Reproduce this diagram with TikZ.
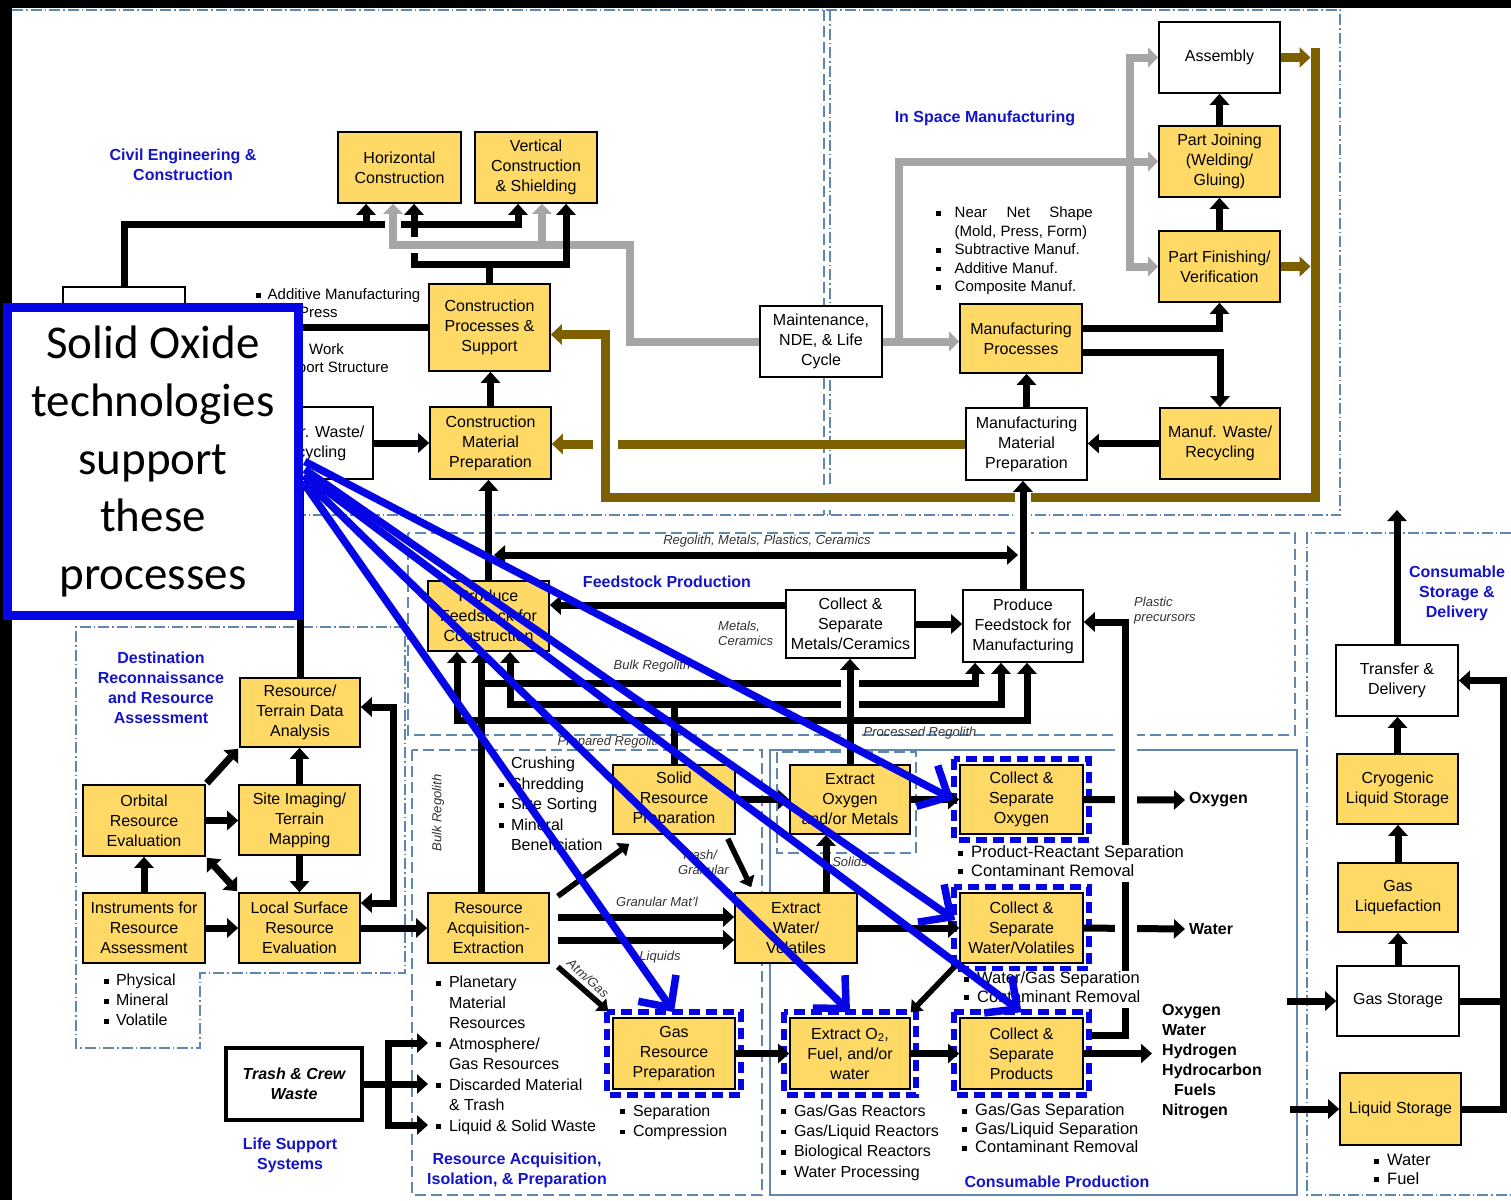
\documentclass[tikz,border=0pt]{standalone}
\usepackage{fontspec}
\setmainfont{Liberation Sans}
\newfontfamily\calfont{Carlito}
\usetikzlibrary{arrows.meta,positioning}

\definecolor{boxyellow}{RGB}{255,217,102}
\definecolor{flowbrown}{RGB}{127,96,0}
\definecolor{flowgray}{RGB}{166,166,166}
\definecolor{titleblue}{RGB}{20,20,200}
\definecolor{calloutblue}{RGB}{5,5,230}
\definecolor{regionline}{RGB}{95,135,175}

\newcommand{\sqbul}{\rule[0.12em]{0.3em}{0.3em}}
\newcommand{\boxfont}{\fontsize{16}{20}\selectfont}
\newcommand{\listfont}{\fontsize{16}{20.4}\selectfont}
\newcommand{\tightfont}{\fontsize{16.5}{18.5}\selectfont}
\newcommand{\mfgfont}{\fontsize{15}{18.5}\selectfont}
\newcommand{\flowfont}{\fontsize{13}{15}\selectfont\itshape}
\newcommand{\titlefont}{\fontsize{16}{20}\selectfont\bfseries}

\pgfdeclarelayer{regions}
\pgfdeclarelayer{conn}
\pgfdeclarelayer{front}
\pgfsetlayers{regions,conn,main,front}

\tikzset{
  plainbox/.style={draw=black, line width=1.6pt, fill=white, align=center,
    inner sep=1pt, minimum width=121pt, minimum height=70pt, font=\boxfont},
  yellowbox/.style={plainbox, fill=boxyellow},
  bullets/.style={inner sep=0pt, anchor=north west, font=\listfont},
  regtitle/.style={text=titleblue, font=\titlefont, align=center, inner sep=0pt},
  flowlabel/.style={font=\flowfont, text=black!80, inner sep=0pt},
  outlabel/.style={font=\boxfont\bfseries, inner sep=0pt, inner xsep=4pt, anchor=west},
  flowarrow/.style={line width=7pt, -{Triangle[length=11pt,width=19pt]}},
  flowboth/.style={line width=7pt, {Triangle[length=11pt,width=19pt]}-{Triangle[length=11pt,width=19pt]}},
  flowline/.style={line width=7pt},
  diagarrow/.style={line width=5.5pt, -{Triangle[length=10pt,width=16pt]}},
  grayarrow/.style={draw=flowgray, line width=8pt, -{Triangle[length=10pt,width=19pt]}},
  brownarrow/.style={draw=flowbrown, line width=9pt, -{Triangle[length=11pt,width=20pt]}},
  gapcase/.style={preaction={draw=white, arrows=-, line width=#1}},
  hiframe/.style={draw=calloutblue, line width=6pt, dash pattern=on 11pt off 6pt},
  solidox/.style={draw=calloutblue, line width=7.5pt, -{Straight Barb[length=24pt,width=46pt]}},
  regdash/.style={draw=regionline, line width=1.3pt, dash pattern=on 11pt off 5pt},
  regdot/.style={draw=regionline, line width=1.3pt, dash pattern=on 11pt off 3pt on 1.5pt off 3pt},
  regsolid/.style={draw=regionline, line width=1.2pt}
}

\begin{document}
\begin{tikzpicture}[x=1pt,y=-1pt]
\useasboundingbox (0,0) rectangle (1511,1200);

% Frame of the screenshot
\fill[black] (0,0) rectangle (1511,8);
\fill[black] (0,0) rectangle (12,1200);

% Regions
\begin{pgfonlayer}{regions}
  \draw[regdot] (12,10) -- (1340,10) -- (1340,515) -- (12,515);
  \draw[regdash] (824,10) -- (824,515);
  \draw[regdot] (830,10) -- (830,515);
  \draw[regdash] (408,533) rectangle (1295,735);
  \draw[regdash] (412,750) rectangle (762,1195);
  \draw[regsolid] (770,750) rectangle (1297,1195);
  \draw[regdash] (777,752) rectangle (916,853);
  \draw[regdot] (405,627) -- (76,627) -- (76,1048) -- (200,1048) -- (200,973) -- (405,973) -- cycle;
  \draw[regdot] (1511,533) -- (1307,533) -- (1307,1195) -- (1511,1195);
\end{pgfonlayer}

% Civil engineering & construction
\node[plainbox, minimum width=122pt, minimum height=81pt] (plan) at (124,327.5) {};
\node[yellowbox, minimum width=123pt, minimum height=71pt] (hz) at (399.5,167.5) {Horizontal\\Construction};
\node[yellowbox, minimum width=122pt, minimum height=71pt] (vt) at (536,167.5) {Vertical\\Construction\\\& Shielding};
\node[yellowbox, minimum height=87pt] (cps) at (489.5,327.5) {Construction\\Processes \&\\Support};
\node[yellowbox, minimum height=72pt] (cmp) at (490.5,443) {Construction\\Material\\Preparation};
\node[plainbox, minimum width=123pt, minimum height=72pt] (cwr) at (311.5,443) {Constr. Waste/\\Recycling};

% In space manufacturing
\node[plainbox, minimum height=71pt] (asm) at (1219.5,57.5) {Assembly};
\node[yellowbox, minimum height=71pt] (pjg) at (1219.5,161.5) {Part Joining\\(Welding/\\Gluing)};
\node[yellowbox, minimum height=71pt] (pfv) at (1219.5,266.5) {Part Finishing/\\Verification};
\node[yellowbox, minimum width=122pt, minimum height=69pt] (mpr) at (1021,338.5) {Manufacturing\\Processes};
\node[plainbox, minimum width=122pt, minimum height=71pt] (mnt) at (821,341.5) {Maintenance,\\NDE, \& Life\\Cycle};
\node[plainbox, minimum height=72pt] (mmp) at (1026.5,444) {Manufacturing\\Material\\Preparation};
\node[yellowbox, minimum width=120pt, minimum height=71pt] (mwr) at (1220,443.5) {Manuf. Waste/\\Recycling};

% Feedstock production
\node[yellowbox] (pfc) at (488.5,616) {Produce\\Feedstock for\\Construction};
\node[plainbox, minimum width=129pt, minimum height=68pt] (csm) at (850.5,624) {Collect \&\\Separate\\Metals/Ceramics};
\node[plainbox, minimum width=120pt, minimum height=72pt] (pfm) at (1023,626) {Produce\\Feedstock for\\Manufacturing};

% Destination reconnaissance
\node[yellowbox, minimum width=120pt, minimum height=69pt] (rt) at (300,712.5) {Resource/\\Terrain Data\\Analysis};
\node[yellowbox, minimum width=122pt, minimum height=71pt] (orb) at (144,820.5) {Orbital\\Resource\\Evaluation};
\node[yellowbox] (sim) at (299.5,820) {Site Imaging/\\Terrain\\Mapping};
\node[yellowbox, minimum width=122pt] (ins) at (144,928) {Instruments for\\Resource\\Assessment};
\node[yellowbox] (lse) at (299.5,928) {Local Surface\\Resource\\Evaluation};

% Life support
\node[plainbox, line width=4pt, minimum width=136pt, minimum height=72pt, font=\boxfont\bfseries\itshape] (tcw) at (294,1084) {Trash \& Crew\\Waste};

% Resource acquisition
\node[yellowbox] (ra) at (488.5,928) {Resource\\Acquisition-\\Extraction};
\node[yellowbox, minimum width=122pt, minimum height=69pt] (srp) at (674,799.5) {Solid\\Resource\\Preparation};
\node[yellowbox, minimum width=122pt, minimum height=71pt] (grp) at (674,1053.5) {Gas\\Resource\\Preparation};

% Consumable production
\node[yellowbox, minimum width=120pt, minimum height=69pt] (eo) at (850,799.5) {Extract\\Oxygen\\and/or Metals};
\node[yellowbox, minimum width=122pt] (ewv) at (796,928) {Extract\\Water/\\Volatiles};
\node[yellowbox, minimum width=120pt, minimum height=71pt] (eo2) at (850,1053.5) {Extract O\textsubscript{2},\\Fuel, and/or\\water};
\node[yellowbox, minimum width=123pt, minimum height=69pt] (cso) at (1021.5,799.5) {Collect \&\\Separate\\Oxygen};
\node[yellowbox, minimum width=123pt] (csw) at (1021.5,928) {Collect \&\\Separate\\Water/Volatiles};
\node[yellowbox, minimum width=123pt, minimum height=71pt] (csp) at (1021.5,1053.5) {Collect \&\\Separate\\Products};

% Consumable storage & delivery
\node[plainbox, minimum width=122pt, minimum height=71pt] (tdl) at (1397,680.5) {Transfer \&\\Delivery};
\node[yellowbox] (cls) at (1397.5,789) {Cryogenic\\Liquid Storage};
\node[yellowbox, minimum width=120pt, minimum height=69pt] (glq) at (1398,897.5) {Gas\\Liquefaction};
\node[plainbox, minimum width=122pt] (gst) at (1398,1001) {Gas Storage};
\node[yellowbox, minimum height=72pt] (lst) at (1400.5,1109) {Liquid Storage};

% Region titles
\node[regtitle] (tcivil) at (183,165) {Civil Engineering \&\\Construction};
\node[regtitle] (tism) at (985,118) {In Space Manufacturing};
\node[regtitle] (tfeed) at (667,582) {Feedstock Production};
\node[regtitle] (tdest) at (161,688) {Destination\\Reconnaissance\\and Resource\\Assessment};
\node[regtitle] (traip) at (517,1170) {Resource Acquisition,\\Isolation, \& Preparation};
\node[regtitle] (tconp) at (1057,1182) {Consumable Production};
\node[regtitle] (tcsd) at (1457,593) {Consumable\\Storage \&\\Delivery};
\node[regtitle] (tlss) at (290,1155) {Life Support\\Systems};

% Bullet notes
\node[bullets, font=\mfgfont] (civn1) at (256,288.5) {\sqbul\hspace{7pt}Additive Manufacturing};
\node[bullets, font=\mfgfont] (civn2) at (299,306.5) {Press};
\node[bullets, font=\mfgfont] (civn3) at (309,343.5) {Work};
\node[bullets, font=\mfgfont, anchor=north east] (civn4) at (389,361.5) {\sqbul\hspace{7pt}Support Structure};
\node[bullets, font=\mfgfont] (mfgn) at (936,204.5) {\begin{tabular}{@{}l@{\hspace{14pt}}l@{}}
  \sqbul & \makebox[138pt][s]{Near Net Shape}\\
         & (Mold, Press, Form)\\
  \sqbul & Subtractive Manuf.\\
  \sqbul & Additive Manuf.\\
  \sqbul & Composite Manuf.\end{tabular}};
\node[bullets, font=\boxfont] (physn) at (104,971.5) {\begin{tabular}{@{}l@{\hspace{7pt}}l@{}}
  \sqbul & Physical\\ \sqbul & Mineral\\ \sqbul & Volatile\end{tabular}};
\node[bullets] (crushn) at (499,754.5) {\begin{tabular}{@{}l@{\hspace{7pt}}l@{}}
  \sqbul & Crushing\\ \sqbul & Shredding\\ \sqbul & Size Sorting\\ \sqbul & Mineral\\ & Beneficiation\end{tabular}};
\node[bullets] (planetn) at (436,973.5) {\begin{tabular}{@{}l@{\hspace{8pt}}l@{}}
  \sqbul & Planetary\\ & Material\\ & Resources\end{tabular}};
\node[bullets] (atmn) at (436,1034.5) {\begin{tabular}{@{}l@{\hspace{8pt}}l@{}}
  \sqbul & Atmosphere/\\ & Gas Resources\end{tabular}};
\node[bullets] (discn) at (436,1075.5) {\begin{tabular}{@{}l@{\hspace{8pt}}l@{}}
  \sqbul & Discarded Material\\ & \& Trash\end{tabular}};
\node[bullets] (liqn) at (436,1116.5) {\begin{tabular}{@{}l@{\hspace{8pt}}l@{}}
  \sqbul & Liquid \& Solid Waste\end{tabular}};
\node[bullets] (sepn) at (620,1101.5) {\begin{tabular}{@{}l@{\hspace{8pt}}l@{}}
  \sqbul & Separation\\ \sqbul & Compression\end{tabular}};
\node[bullets] (reactn) at (781,1101.5) {\begin{tabular}{@{}l@{\hspace{8pt}}l@{}}
  \sqbul & Gas/Gas Reactors\\ \sqbul & Gas/Liquid Reactors\\ \sqbul & Biological Reactors\\ \sqbul & Water Processing\end{tabular}};
\node[bullets, font=\tightfont, fill=white] (prodrn) at (958,844.5) {\begin{tabular}{@{}l@{\hspace{8pt}}l@{}}
  \sqbul & Product-Reactant Separation\\ \sqbul & Contaminant Removal\end{tabular}};
\node[bullets, font=\tightfont, fill=white] (wgasn) at (964,970.5) {\begin{tabular}{@{}l@{\hspace{8pt}}l@{}}
  \sqbul & Water/Gas Separation\\ \sqbul & Contaminant Removal\end{tabular}};
\node[bullets, font=\tightfont] (ggasn) at (962,1102.5) {\begin{tabular}{@{}l@{\hspace{8pt}}l@{}}
  \sqbul & Gas/Gas Separation\\ \sqbul & Gas/Liquid Separation\\ \sqbul & Contaminant Removal\end{tabular}};
\node[bullets, font=\tightfont] (wfueln) at (1374,1152.5) {\begin{tabular}{@{}l@{\hspace{8pt}}l@{}}
  \sqbul & Water\\ \sqbul & Fuel\end{tabular}};

% Outputs
\node[outlabel] (oxo) at (1185,800) {Oxygen};
\node[outlabel] (wto) at (1185,929) {Water};
\node[bullets, font=\boxfont\bfseries, inner xsep=10pt] (prodl) at (1152,1001.5) {\begin{tabular}{@{}l@{}}
  Oxygen\\ Water\\ Hydrogen\\ Hydrocarbon\\ \hspace{12pt}Fuels\\ Nitrogen\end{tabular}};

% Flow labels
\node[flowlabel] (lrmpc) at (767,541) {Regolith, Metals, Plastics, Ceramics};
\node[flowlabel, anchor=west, align=left] (lmc) at (718,633) {Metals,\\Ceramics};
\node[flowlabel, anchor=west, align=left] (lpp) at (1134,611) {Plastic\\precursors};
\node[flowlabel] (lbr) at (652,666) {Bulk Regolith};
\node[flowlabel] (lpr) at (920,733) {Processed Regolith};
\node[flowlabel] (lprep) at (610,742) {Prepared Regolith};
\node[flowlabel, rotate=90] (lbr2) at (438,813) {Bulk Regolith};
\node[flowlabel] (lgm) at (657,902) {Granular Mat'l};
\node[flowlabel] (lliq) at (660,957) {Liquids};
\node[flowlabel, anchor=west, align=left] (ltg) at (678,862) {\hspace{3pt}Trash/\\Granular};
\node[flowlabel] (lsol) at (850,862) {Solids};

% Coordinates for free ends and junctions
\coordinate (bar) at (1315,48);
\coordinate (exl) at (494,555);
\coordinate (exr) at (1018,555);
\coordinate (brj) at (481,683);
\coordinate (prj) at (850,720);
\coordinate (gcorner) at (630,245);
\coordinate (gsplit) at (1130,161.5);
\coordinate (tjn) at (388,1084);
\coordinate (atmgas) at (428,1043);
\coordinate (discard) at (428,1084);
\coordinate (liqwaste) at (428,1125);
\coordinate (outtop) at (1397,510);
\coordinate (gin) at (1287,1001);
\coordinate (lin) at (1290,1109);

\begin{pgfonlayer}{conn}
  % Highlight frames
  \foreach \n in {cso,csw,csp,grp,eo2}
    \draw[hiframe] ([xshift=-5pt,yshift=5pt]\n.north west) rectangle ([xshift=5pt,yshift=-5pt]\n.south east);

  % Civil engineering
  \draw[flowarrow] (plan.north) -- ++(0,-62) -| ([xshift=-33.5pt]hz.south);
  \draw[flowarrow] (plan.north) -- ++(0,-62) -| ([xshift=-18pt]vt.south);
  \draw[flowline] (cps.west) -- (plan.east);
  \draw[flowarrow] (cps.north) -- ++(0,-19) -| ([xshift=14.5pt]hz.south);
  \draw[grayarrow, gapcase=16pt] (mnt.west) -| (gcorner) -| ([xshift=-6.5pt]hz.south);
  \draw[grayarrow] (gcorner) -| ([xshift=6pt]vt.south);
  \draw[flowarrow] (cps.north) -- ++(0,-19) -| ([xshift=30pt]vt.south);
  \draw[flowarrow] (cmp.north) -- (cmp.north |- cps.south);
  \draw[flowarrow] (cwr.east) -- (cmp.west);
  \draw[flowarrow] (rt.north) -- (rt.north |- cwr.south);
  \draw[flowarrow] (pfc.north) -- (pfc.north |- cmp.south);

  % In space manufacturing
  \draw[flowarrow] (pjg.north) -- (asm.south);
  \draw[flowarrow] (pfv.north) -- (pjg.south);
  \draw[flowarrow] ([yshift=10.5pt]mpr.east) -| (pfv.south);
  \draw[flowarrow] ([yshift=-13.5pt]mpr.east) -| (mwr.north);
  \draw[flowarrow] (mwr.west) -- (mwr.west -| mmp.east);
  \draw[flowarrow] (mmp.north) -- (mmp.north |- mpr.south);
  \draw[grayarrow] (mnt.east) -- (mnt.east -| mpr.west);
  \draw[grayarrow] ([xshift=16pt]mnt.east) |- (pjg.west);
  \draw[grayarrow] (gsplit) |- (asm.west);
  \draw[grayarrow] (gsplit) |- (pfv.west);

  % Brown return flows
  \draw[brownarrow] (mmp.west) -- (mmp.west -| cmp.east);
  \draw[brownarrow, gapcase=25pt] (bar) |- (605,497) |- ([yshift=-7pt]cps.east);
  \draw[brownarrow, shorten >=4.5pt] (asm.east) -- (asm.east -| bar);
  \draw[brownarrow, shorten >=4.5pt] (pfv.east) -- (pfv.east -| bar);

  % Feedstock production
  \draw[flowarrow, gapcase=16pt] (pfm.north) -- (pfm.north |- mmp.south);
  \draw[flowboth] (exl) -- (exr);
  \draw[flowarrow] ([yshift=19pt]csm.west) -- ([yshift=19pt]csm.west -| pfc.east);
  \draw[flowarrow] (csm.east) -- (csm.east -| pfm.west);
  \draw[flowarrow] ([xshift=-7.5pt]ra.north) -- ([xshift=-7.5pt]pfc.south);
  \draw[flowarrow] (brj) -| ([xshift=-48pt]pfm.south);
  \draw[flowarrow] (srp.north) -- ++(0,-60) -| ([xshift=21.5pt]pfc.south);
  \draw[flowarrow] (srp.north) -- ++(0,-60) -| ([xshift=-22pt]pfm.south);
  \draw[flowarrow, gapcase=18pt] (eo.north) -- (eo.north |- csm.south);
  \draw[flowarrow] (prj) -| ([xshift=-31.5pt]pfc.south);
  \draw[flowarrow] (prj) -| ([xshift=4pt]pfm.south);

  % Destination reconnaissance
  \draw[flowarrow] ([xshift=1pt,yshift=1pt]orb.north east) -- ([xshift=-1pt,yshift=-1pt]rt.south west);
  \draw[flowarrow] (orb.east) -- (orb.east -| sim.west);
  \draw[flowarrow] (sim.north) -- (sim.north |- rt.south);
  \draw[flowarrow] (sim.south) -- (sim.south |- lse.north);
  \draw[flowboth] ([xshift=1pt,yshift=-1pt]orb.south east) -- ([xshift=-1pt,yshift=1pt]lse.north west);
  \draw[flowarrow] (ins.north) -- (ins.north |- orb.south);
  \draw[flowarrow] (ins.east) -- (ins.east -| lse.west);
  \draw[flowboth] ([yshift=25pt]lse.east) -- ++(33,0) |- ([yshift=5.5pt]rt.east);
  \draw[flowarrow] (lse.east) -- (lse.east -| ra.west);

  % Life support
  \draw[flowarrow] (tcw.east) -- (discard);
  \draw[flowarrow] (tjn) |- (atmgas);
  \draw[flowarrow] (tjn) |- (liqwaste);

  % Resource acquisition
  \draw[diagarrow] ([xshift=8pt,yshift=-4pt]ra.north east) -- ([xshift=17pt,yshift=-9pt]srp.south west);
  \draw[flowarrow] ([xshift=8pt,yshift=11pt]ra.east) -- ([yshift=11pt]ra.east -| ewv.west);
  \draw[flowarrow] ([xshift=8pt,yshift=-12pt]ra.east) -- ([yshift=-12pt]ra.east -| ewv.west);
  \draw[diagarrow] ([xshift=8pt,yshift=-3pt]ra.south east) -- node[flowlabel, sloped, above=4pt, pos=0.45] {Atm/Gas} ([xshift=-4pt,yshift=6pt]grp.north west);
  \draw[diagarrow] ([xshift=-8pt,yshift=-4pt]srp.south east) -- ([xshift=17pt,yshift=5pt]ewv.north west);
  \draw[flowarrow] (srp.east) -- (srp.east -| eo.west);

  % Consumable production
  \draw[flowarrow] ([xshift=30pt]ewv.north) -- ([xshift=30pt]ewv.north |- eo.south);
  \draw[flowarrow] (eo.east) -- (eo.east -| cso.west);
  \draw[flowarrow] (ewv.east) -- (ewv.east -| csw.west);
  \draw[diagarrow] ([xshift=-2pt]csw.south west) -- ([yshift=5pt]eo2.north east);
  \draw[flowarrow] (grp.east) -- (grp.east -| eo2.west);
  \draw[flowarrow] (eo2.east) -- (eo2.east -| csp.west);
  \draw[flowarrow] (csp.east) -- (csp.east -| prodl.west);
  \draw[flowarrow] (cso.east) -- (oxo.west);
  \draw[flowarrow] (csw.east) -- (wto.west);
  \draw[flowarrow, gapcase=22pt] ([xshift=8pt,yshift=18.5pt]csp.east) -- ++(34,0) |- ([yshift=4pt]pfm.east);

  % Consumable storage & delivery
  \draw[flowarrow] (tdl.north) -- (outtop);
  \draw[flowarrow] (cls.north) -- (cls.north |- tdl.south);
  \draw[flowarrow] (glq.north) -- (glq.north |- cls.south);
  \draw[flowarrow] (gst.north) -- (gst.north |- glq.south);
  \draw[flowarrow] (lst.east) -- ++(42,0) |- (tdl.east);
  \draw[flowline] (gst.east) -- ++(45,0);
  \draw[flowarrow] (gin) -- (gst.west);
  \draw[flowarrow] (lin) -- (lst.west);
\end{pgfonlayer}

% Solid oxide callout
\begin{pgfonlayer}{front}
  \node[draw=calloutblue, line width=8.5pt, fill=white, align=center, inner sep=0pt,
    minimum width=291pt, minimum height=308pt,
    font=\calfont\fontsize{47}{57.7}\selectfont] (sox) at (153,461.5)
    {Solid Oxide\\technologies\\support\\these\\processes};
  \draw[solidox] ([xshift=2pt]sox.east) -- ([xshift=-6pt]cso.west);
  \draw[solidox] ([xshift=2pt,yshift=-8pt]sox.east) -- ([xshift=-4pt,yshift=8pt]csw.west);
  \draw[solidox] ([xshift=2pt,yshift=-13pt]sox.east) -- ([yshift=5pt]csp.north);
  \draw[solidox] ([xshift=2pt,yshift=-18pt]sox.east) -- ([yshift=5pt]eo2.north);
  \draw[solidox] ([xshift=2pt,yshift=-23pt]sox.east) -- ([yshift=5pt]grp.north);
\end{pgfonlayer}

\end{tikzpicture}
\end{document}
